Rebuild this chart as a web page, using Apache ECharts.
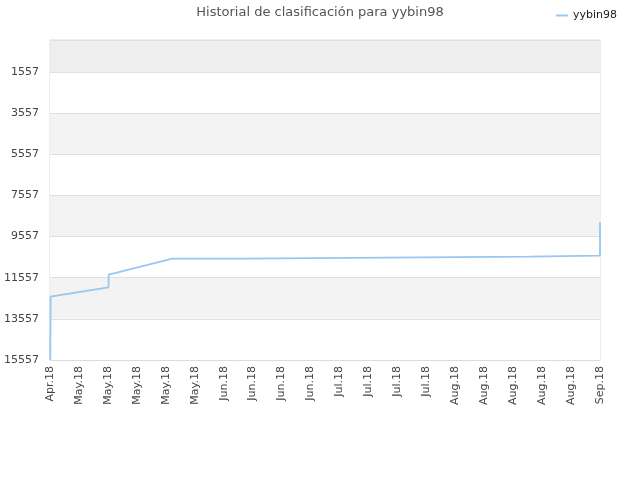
<!DOCTYPE html>
<html>
<head>
<meta charset="utf-8">
<script src="https://cdn.jsdelivr.net/npm/echarts@6/dist/echarts.min.js"></script>
<style>
  html, body { margin: 0; padding: 0; background: #fff; }
  #main { width: 640px; height: 480px; }
</style>
</head>
<body>
<div id="main"></div>
<script>
// tick labels along the x axis (one per label slot)
var xLabels = ['Apr.18', 'May.18', 'May.18', 'May.18', 'May.18', 'May.18',
  'Jun.18', 'Jun.18', 'Jun.18', 'Jun.18', 'Jul.18', 'Jul.18', 'Jul.18', 'Jul.18',
  'Aug.18', 'Aug.18', 'Aug.18', 'Aug.18', 'Aug.18', 'Sep.18'];

// rank ticks shown on the y axis
var rankTicks = [1557, 3557, 5557, 7557, 9557, 11557, 13557, 15557];

// position of each point, in label slots, and the rank there
var pointPos = [0.01, 0.02, 2.02, 2.03, 4.23, 6.69, 6.70, 11.64, 11.65, 16.56, 16.57, 19, 19];
var rankValues = [15557, 12480, 12022, 11410, 10632, 10632, 10584, 10584, 10535, 10535, 10487, 10487, 8863];

var rankMin = 1;
var rankMax = 15557;

var dom = document.getElementById('main');
var myChart = echarts.init(dom, null, { renderer: 'canvas' });

var seriesData = pointPos.map(function (p, i) {
  return [p, rankValues[i]];
});

var option = {
  animation: false,
  textStyle: { fontFamily: 'DejaVu Sans' },
  title: {
    text: 'Historial de clasificación para yybin98',
    left: 'center',
    top: 1,
    textStyle: { fontSize: 13, fontWeight: 'normal', color: '#555' }
  },
  legend: {
    right: 18,
    top: 5,
    itemWidth: 12,
    itemHeight: 2,
    icon: 'rect',
    textStyle: { fontSize: 11, color: '#222' },
    data: ['yybin98']
  },
  grid: {
    left: 50,
    right: 40,
    top: 40,
    bottom: 120,
    outerBoundsMode: 'none',
    show: true,
    borderColor: '#dcdcdc',
    borderWidth: 1
  },
  xAxis: {
    type: 'value',
    min: 0,
    max: xLabels.length - 1,
    interval: 1,
    axisLine: { show: true, lineStyle: { color: '#dcdcdc' } },
    axisTick: { show: false },
    splitLine: { show: false },
    axisLabel: {
      rotate: 90,
      fontSize: 11,
      color: '#444',
      margin: 6,
      formatter: function (v) { return xLabels[Math.round(v)] || ''; }
    }
  },
  yAxis: {
    type: 'value',
    inverse: true,
    min: rankMin,
    max: rankMax,
    axisLine: { show: false },
    axisTick: { show: false, customValues: [rankMin].concat(rankTicks) },
    axisLabel: {
      fontSize: 11,
      color: '#444',
      margin: 11,
      customValues: rankTicks,
      formatter: function (v) { return String(v); }
    },
    splitLine: { show: true, lineStyle: { color: '#e0e0e0' } },
    splitArea: {
      show: true,
      areaStyle: {
        color: ['#eeeeee', '#ffffff', '#f3f3f3', '#ffffff', '#f3f3f3', '#ffffff', '#f3f3f3', '#ffffff']
      }
    }
  },
  series: [
    {
      name: 'yybin98',
      type: 'line',
      data: seriesData,
      showSymbol: false,
      symbol: 'none',
      color: '#99c6f3',
      lineStyle: { width: 1.8, color: '#99c6f3' }
    }
  ]
};

myChart.setOption(option);
window.addEventListener('resize', myChart.resize);
</script>
</body>
</html>
